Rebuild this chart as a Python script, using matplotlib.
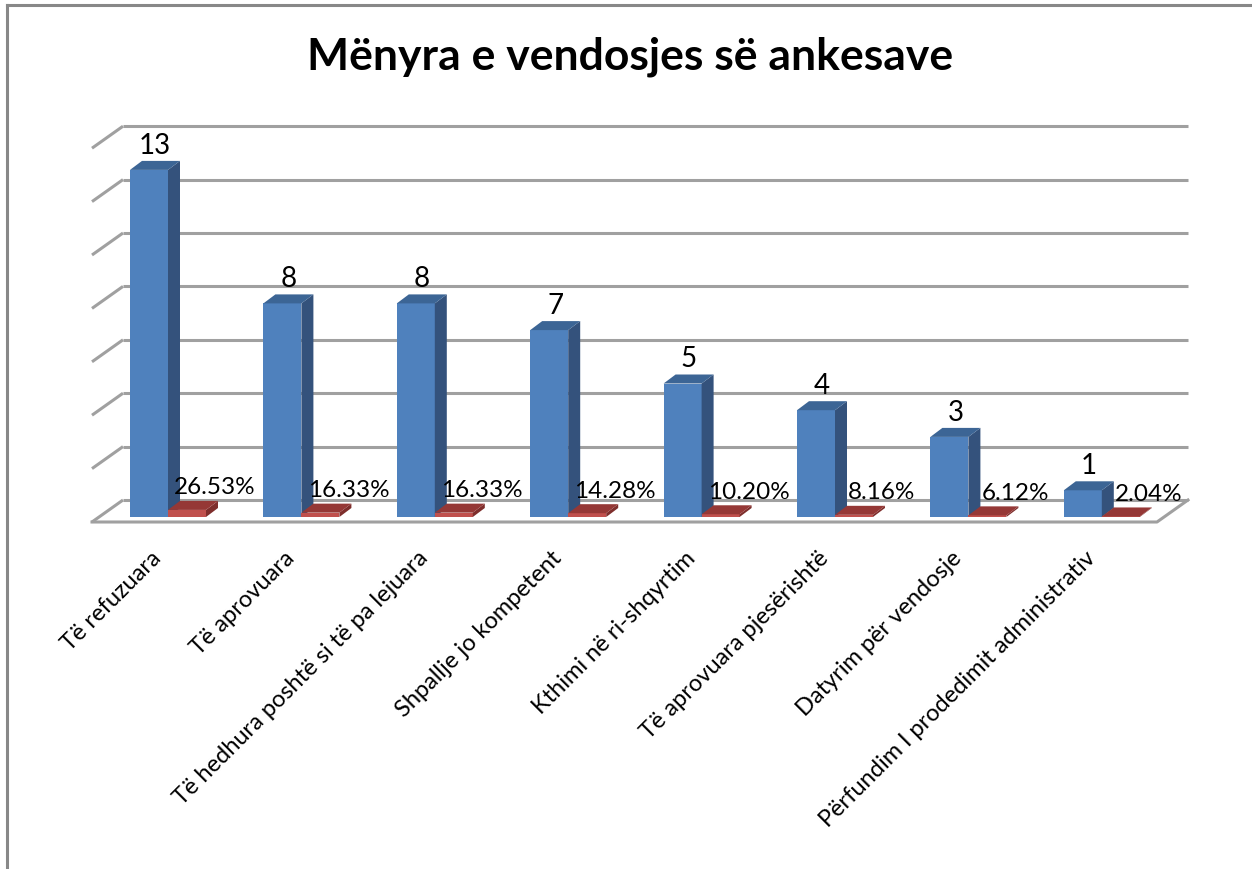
import matplotlib
matplotlib.use("Agg")
import matplotlib.pyplot as plt
from matplotlib.patches import Polygon

plt.rcParams['font.family'] = ['Lato', 'DejaVu Sans']

title = "Mënyra e vendosjes së ankesave"
categories = ["Të refuzuara", "Të aprovuara", "Të hedhura poshtë si të pa lejuara",
              "Shpallje jo kompetent", "Kthimi në ri-shqyrtim", "Të aprovuara pjesërishtë",
              "Datyrim për vendosje", "Përfundim I prodedimit administrativ"]
counts = [13, 8, 8, 7, 5, 4, 3, 1]
percents = [26.53, 16.33, 16.33, 14.28, 10.20, 8.16, 6.12, 2.04]
grid_levels = [0, 2, 4, 6, 8, 10, 12, 14]

W, H = 1252, 869
fig = plt.figure(figsize=(W / 100, H / 100), dpi=100)
ax = fig.add_axes([0, 0, 1, 1])
ax.set_axis_off()

# pixel scale of the drawing (category spacing, value unit)
X0, SX = 168.0, 133.4
Y0, SY = 517.0, 26.7
ax.set_xlim(-X0 / SX, (W - X0) / SX)
ax.set_ylim((Y0 - H) / SY, Y0 / SY)

def px(dx):
    return dx / SX

def py(dy):
    return dy / SY

n = len(categories)
# floor / walls
xl = px(92 - X0)
xr = (n - 1) + px(1157 - (X0 + (n - 1) * SX))
fy = -py(5)
ddx, ddy = px(31), py(22)
gcol = '#a0a0a0'
for g in grid_levels:
    ax.plot([xl, xl + ddx], [g + fy, g + fy + ddy], color=gcol, lw=2.2, solid_capstyle='butt', zorder=1)
    ax.plot([xl + ddx, xr + ddx], [g + fy + ddy, g + fy + ddy], color=gcol, lw=2.2, solid_capstyle='butt', zorder=1)
ax.plot([xl, xr, xr + ddx], [fy, fy, fy + ddy], color=gcol, lw=2.2, zorder=1)

# bars
bw = px(38)
bdx, bdy = px(12), py(9)
blue = ('#4F81BD', '#34527C', '#3C6595')
red = ('#C0504D', '#7E2E2C', '#953836')

def bar3d(x0, h, cols, z):
    front, side, top = cols
    ax.bar(x0, h, width=bw, align='edge', color=front, zorder=z, linewidth=0)
    ax.add_patch(Polygon([(x0 + bw, 0), (x0 + bw + bdx, bdy), (x0 + bw + bdx, h + bdy), (x0 + bw, h)],
                         closed=True, facecolor=side, edgecolor='none', zorder=z))
    ax.add_patch(Polygon([(x0, h), (x0 + bdx, h + bdy), (x0 + bw + bdx, h + bdy), (x0 + bw, h)],
                         closed=True, facecolor=top, edgecolor='none', zorder=z))

for i in range(n):
    bar3d(i - bw, counts[i], blue, 3 + 2 * i)
    bar3d(i, percents[i] / 100.0, red, 4 + 2 * i)
    ax.text(i - bw / 2 + px(6), counts[i] + bdy + py(2), str(counts[i]),
            ha='center', va='bottom', fontsize=20, color='black', zorder=30)
    ax.text(i + bw / 2 + px(28), percents[i] / 100.0 + py(22), f"{percents[i]:.2f}%",
            ha='center', va='center', fontsize=17.5, color='black', zorder=30)
    ax.text(i - px(10), -py(38), categories[i], rotation=45, rotation_mode='anchor',
            ha='right', va='center', fontsize=17, color='black', zorder=30)

fig.text(630 / W, 1 - 57 / H, title, ha='center', va='center', fontsize=32, fontweight='bold')

# chart border (left and top)
fig.add_artist(plt.Line2D([7 / W, 7 / W], [0, 1 - 5 / H], color='#888888', lw=2.2))
fig.add_artist(plt.Line2D([7 / W, 1], [1 - 5 / H, 1 - 5 / H], color='#888888', lw=2.2))

fig.savefig("out.png", dpi=100)
